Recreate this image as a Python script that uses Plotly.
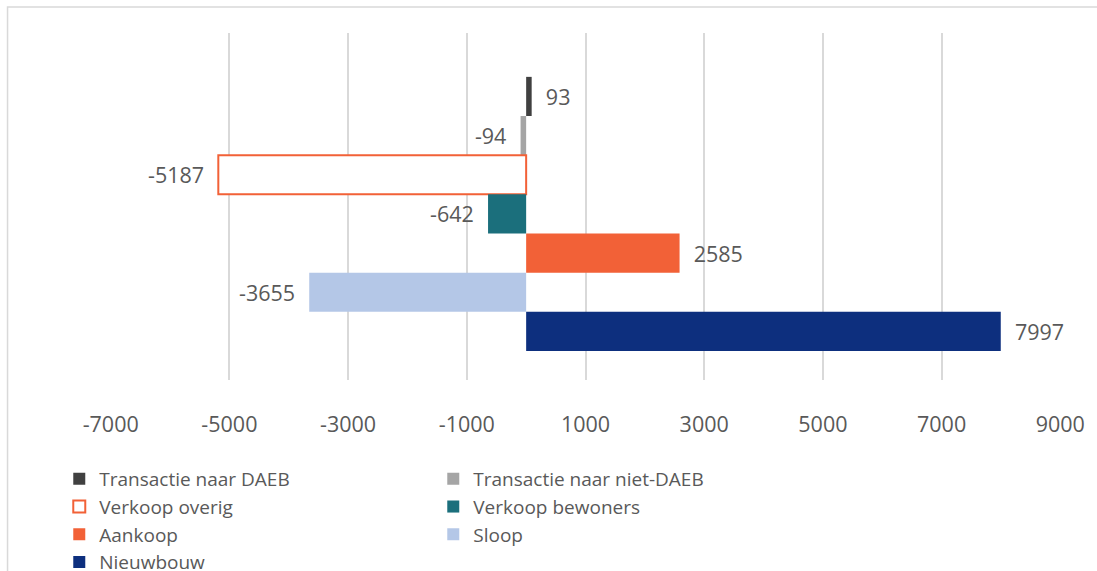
import plotly.graph_objects as go

series = ["Transactie naar DAEB", "Transactie naar niet-DAEB", "Verkoop overig",
          "Verkoop bewoners", "Aankoop", "Sloop", "Nieuwbouw"]
values = [93, -94, -5187, -642, 2585, -3655, 7997]
fills = ["#404040", "#A5A5A5", "#FFFFFF", "#1B6F7C", "#F26137", "#B4C7E7", "#0D2F7E"]
lines = ["#404040", "#A5A5A5", "#F26137", "#1B6F7C", "#F26137", "#B4C7E7", "#0D2F7E"]
tick_vals = [-7000, -5000, -3000, -1000, 1000, 3000, 5000, 7000, 9000]
tick_text = [str(v) for v in tick_vals]

W, H = 1097, 650
L, R, T, B = 110, 31, 33, H - 380
PW, PH = W - L - R, H - T - B

NB = "\u00a0"
fig = go.Figure()
for i, (name, v) in enumerate(zip(series, values)):
    label = (NB * 2 + str(v)) if v >= 0 else (str(v) + NB * 2)
    fig.add_trace(go.Bar(
        name=name, x=[v], y=[i], orientation="h", width=1.0,
        marker=dict(color=fills[i], line=dict(color=lines[i], width=2 if fills[i] == "#FFFFFF" else 0)),
        text=[label], textposition="outside", cliponaxis=False,
        textfont=dict(family="Open Sans", size=21.5, color="#595959"),
        hoverinfo="skip",
    ))

fig.update_layout(
    width=W, height=H,
    barmode="overlay",
    plot_bgcolor="white", paper_bgcolor="white",
    margin=dict(l=L, r=R, t=T, b=B),
    font=dict(family="Open Sans", size=19, color="#595959"),
    showlegend=True,
    legend=dict(orientation="h", x=(59 - L) / PW, xanchor="left", y=(380 - 460) / PH, yanchor="top",
                entrywidth=329, entrywidthmode="pixels", traceorder="normal",
                font=dict(family="Open Sans", size=19, color="#595959"),
                bgcolor="rgba(0,0,0,0)"),
    shapes=[dict(type="rect", xref="paper", yref="paper",
                 x0=(7 - L) / PW, x1=(1110 - L) / PW,
                 y0=(380 - 645) / PH, y1=(380 - 7) / PH,
                 line=dict(color="#D9D9D9", width=1.5), fillcolor="rgba(0,0,0,0)", layer="below")],
)
fig.update_xaxes(range=[-7012, 9012], tickvals=tick_vals, ticktext=tick_text,
                 showgrid=True, gridcolor="#D9D9D9", gridwidth=1.5, zeroline=False,
                 showline=False, ticks="", ticklabelstandoff=29,
                 tickfont=dict(family="Open Sans", size=21.5, color="#595959"))
fig.update_yaxes(range=[7.24, -1.62], showticklabels=False, showgrid=False,
                 zeroline=False, showline=False)

fig.write_html("out.html", config={"displayModeBar": False},
               post_script="document.body.style.margin='0';document.body.style.overflow='hidden';"
                           "document.documentElement.style.overflow='hidden';")
